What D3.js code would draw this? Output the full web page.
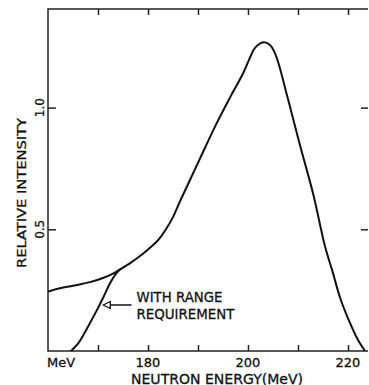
<!DOCTYPE html>
<html>
<head>
<meta charset="utf-8">
<script src="https://cdn.jsdelivr.net/npm/d3@7"></script>
<style>
  html, body { margin: 0; padding: 0; background: #fff; }
  svg { display: block; font-family: "DejaVu Sans", sans-serif; }
  .frame { stroke: #222; stroke-width: 1.5; fill: none; }
  .tick line { stroke: #222; stroke-width: 1.5; }
  .curve { stroke: #111; stroke-width: 2; fill: none; }
  .label { fill: #111; stroke: #111; stroke-width: 0.3; }
</style>
</head>
<body>
<svg id="chart" width="369" height="385"></svg>
<script>
// Neutron spectrum.
const mainEnergy = [160, 162.4, 165, 168.4, 171, 173, 174.4, 176.5, 178.4, 180, 182, 183.5, 185, 186.4, 188, 190.5, 193.6, 196.5, 199, 200.4, 201.4, 203.1, 204.4, 205.4, 206.1, 208, 210.4, 213.1, 215.4, 217, 218.4, 220.5, 222, 223.4];
const mainIntensity = [0.244, 0.258, 0.268, 0.283, 0.3, 0.318, 0.335, 0.362, 0.39, 0.417, 0.455, 0.497, 0.55, 0.615, 0.685, 0.795, 0.93, 1.045, 1.14, 1.205, 1.245, 1.268, 1.257, 1.223, 1.182, 1.035, 0.845, 0.64, 0.43, 0.32, 0.22, 0.11, 0.045, 0];

// Spectrum "with range requirement", joins the main curve near 174 MeV.
const rangeEnergy = [164.6, 166, 167.2, 168.4, 169.7, 171, 172.4, 173.5, 174.4];
const rangeIntensity = [0, 0.03, 0.07, 0.115, 0.165, 0.218, 0.278, 0.315, 0.335];

const energyTicks = [170, 180, 190, 200, 210, 220];
const energyLabelValues = [160, 180, 200, 220];
const energyLabelTexts = ["MeV", "180", "200", "220"];
const intensityTicks = [0.5, 1.0];
const intensityLabels = ["0.5", "1.0"];

const svg = d3.select("#chart");
const x = d3.scaleLinear().domain([160, 224]).range([48, 368]);
const y = d3.scaleLinear().domain([0, 1.405]).range([351, 9]);

const plotLeft = x(160), plotRight = x(224), plotTop = y(1.405), plotBottom = y(0);

// frame: left, top and bottom edges (right edge falls on the picture border)
svg.append("path")
  .attr("class", "frame")
  .attr("d", "M" + plotRight + "," + plotTop + "H" + plotLeft + "V" + plotBottom + "H" + plotRight);

// inward ticks on all four sides
svg.append("g")
  .attr("transform", "translate(0," + plotBottom + ")")
  .call(d3.axisBottom(x).tickValues(energyTicks).tickSize(-6).tickFormat(""))
  .call(g => g.select(".domain").remove());
svg.append("g")
  .attr("transform", "translate(0," + plotTop + ")")
  .call(d3.axisTop(x).tickValues(energyTicks).tickSize(-6).tickFormat(""))
  .call(g => g.select(".domain").remove());
svg.append("g")
  .attr("transform", "translate(" + plotLeft + ",0)")
  .call(d3.axisLeft(y).tickValues(intensityTicks).tickSize(-8).tickFormat(""))
  .call(g => g.select(".domain").remove());
svg.append("g")
  .attr("transform", "translate(" + plotRight + ",0)")
  .call(d3.axisRight(y).tickValues(intensityTicks).tickSize(-7).tickFormat(""))
  .call(g => g.select(".domain").remove());

// energy tick labels
svg.selectAll(".xlab")
  .data(energyLabelValues)
  .enter()
  .append("text")
  .attr("class", "label xlab")
  .attr("x", (d, i) => i === 0 ? x(d) - 1 : x(d))
  .attr("y", 367)
  .attr("text-anchor", (d, i) => i === 0 ? "start" : "middle")
  .attr("font-size", 13)
  .text((d, i) => energyLabelTexts[i]);

// intensity tick labels, rotated like the axis title
svg.selectAll(".ylab")
  .data(intensityTicks)
  .enter()
  .append("text")
  .attr("class", "label ylab")
  .attr("transform", d => "translate(43.5," + y(d) + ") rotate(-90)")
  .attr("text-anchor", "middle")
  .attr("font-size", 12)
  .text((d, i) => intensityLabels[i]);

svg.append("text")
  .attr("class", "label")
  .attr("x", 217)
  .attr("y", 383.5)
  .attr("text-anchor", "middle")
  .attr("font-size", 14.5)
  .attr("textLength", 172)
  .attr("lengthAdjust", "spacingAndGlyphs")
  .text("NEUTRON ENERGY(MeV)");

svg.append("text")
  .attr("class", "label")
  .attr("transform", "translate(25.5,193) rotate(-90)")
  .attr("text-anchor", "middle")
  .attr("font-size", 12)
  .attr("textLength", 150)
  .attr("lengthAdjust", "spacingAndGlyphs")
  .text("RELATIVE INTENSITY");

const line = d3.line()
  .x(d => x(d[0]))
  .y(d => y(d[1]))
  .curve(d3.curveCatmullRom.alpha(0.5));

svg.append("path")
  .attr("class", "curve")
  .attr("d", line(mainEnergy.map((e, i) => [e, mainIntensity[i]])));

svg.append("path")
  .attr("class", "curve")
  .attr("d", line(rangeEnergy.map((e, i) => [e, rangeIntensity[i]])));

// arrow pointing at the range-requirement curve
const tipX = x(171.06), tailX = x(176.7), arrowY = y(0.189);
svg.append("line")
  .attr("x1", tipX + 7).attr("x2", tailX)
  .attr("y1", arrowY).attr("y2", arrowY)
  .attr("stroke", "#111").attr("stroke-width", 1.5);
svg.append("path")
  .attr("d", "M" + tipX + "," + arrowY + "L" + (tipX + 7) + "," + (arrowY - 3.5) +
    "L" + (tipX + 7) + "," + (arrowY + 3.5) + "Z")
  .attr("fill", "#fff").attr("stroke", "#111").attr("stroke-width", 1.3);

svg.append("text")
  .attr("class", "label")
  .attr("x", x(177.7)).attr("y", 302)
  .attr("font-size", 14)
  .attr("textLength", 86)
  .attr("lengthAdjust", "spacingAndGlyphs")
  .text("WITH RANGE");
svg.append("text")
  .attr("class", "label")
  .attr("x", x(177.7)).attr("y", 319)
  .attr("font-size", 14)
  .attr("textLength", 98)
  .attr("lengthAdjust", "spacingAndGlyphs")
  .text("REQUIREMENT");
</script>
</body>
</html>
